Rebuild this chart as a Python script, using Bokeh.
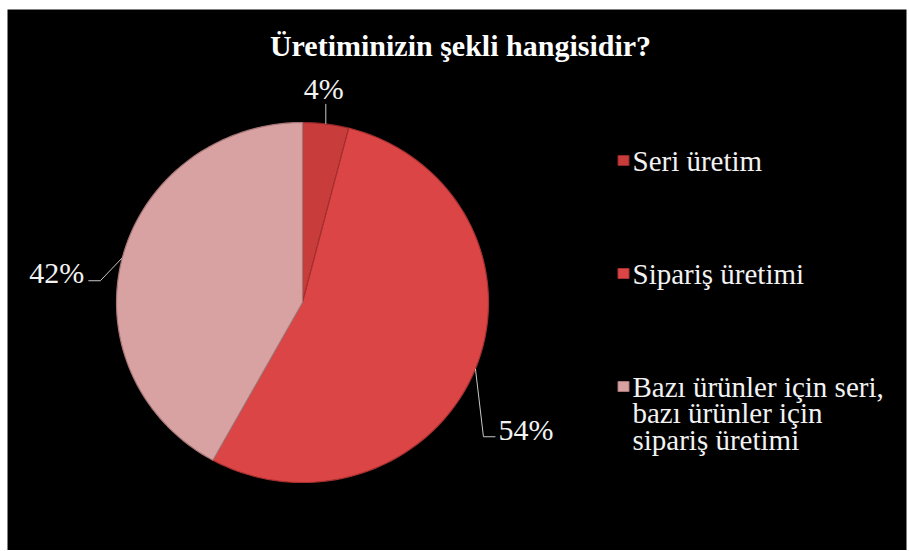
import numpy as np
from bokeh.plotting import figure
from bokeh.models import Range1d, ColumnDataSource
from bokeh.core.properties import value
from bokeh.embed import file_html
from bokeh.resources import INLINE

# ---- data ----
title_text = "Üretiminizin şekli hangisidir?"
categories = ["Seri üretim", "Sipariş üretimi", "Bazı ürünler için seri, bazı ürünler için sipariş üretimi"]
legend_lines = [["Seri üretim"], ["Sipariş üretimi"], ["Bazı ürünler için seri,", "bazı ürünler için", "sipariş üretimi"]]
percents = [4, 54, 42]
colors = ["#c93c3c", "#dc4545", "#d9a2a2"]
edge_colors = ["#8e2626", "#a83030", "#a77676"]

# ---- layout (pixel-like data space, y downwards) ----
W, H = 908, 550
FL, FT, FR, FB = 7, 9, 2, 0          # white margins around black area
CX, CY = 302, 302          # pie centre
RX, RY = 186, 180          # pie radii
FONT = "Liberation Serif"

p = figure(width=W, height=H, output_backend="svg", toolbar_location=None,
           x_range=Range1d(FL, W - FR), y_range=Range1d(H - FB, FT),
           x_axis_location=None, y_axis_location=None,
           min_border_left=FL, min_border_top=FT, min_border_right=FR, min_border_bottom=FB,
           background_fill_color="black", border_fill_color="white")
p.outline_line_color = None
p.grid.visible = False

# ---- pie slices (clockwise from 12 o'clock) ----
vals = np.array(percents, dtype=float)
fr = vals / vals.sum()
ends = np.cumsum(fr) * 2 * np.pi
starts = ends - fr * 2 * np.pi
xs, ys, mids = [], [], []
for s, e in zip(starts, ends):
    t = np.linspace(s, e, 120)
    xs.append(list(np.r_[CX, CX + RX * np.sin(t), CX]))
    ys.append(list(np.r_[CY, CY - RY * np.cos(t), CY]))
    mids.append((s + e) / 2)
p.patches(xs=xs, ys=ys, fill_color=colors, line_color=edge_colors, line_width=1.2)

# ---- data labels with leader lines ----
edge_pts = [(CX + RX * np.sin(m), CY - RY * np.cos(m)) for m in mids]
leader_offsets = [
    [(0, 0), (0, -20)],
    [(0, 0), (8, 68), (20, 68)],
    [(0, 0), (-22, 23), (-34, 23)],
]
label_anchor = [
    (-2, -35, "center"),
    (23, 61, "left"),
    (-38, 15, "right"),
]
for (ex, ey), offs in zip(edge_pts, leader_offsets):
    p.line([ex + dx for dx, dy in offs], [ey + dy for dx, dy in offs],
           line_color="#c8c8c8", line_width=1)
lab_src = ColumnDataSource(dict(
    x=[ex + a[0] for (ex, ey), a in zip(edge_pts, label_anchor)],
    y=[ey + a[1] for (ex, ey), a in zip(edge_pts, label_anchor)],
    t=[f"{v}%" for v in percents],
    al=[a[2] for a in label_anchor]))
p.text(x="x", y="y", text="t", text_align="al", source=lab_src,
       text_baseline="middle", text_color="#f2f2f2",
       text_font=value(FONT), text_font_size="30px")

# ---- title ----
p.text(x=[460], y=[45], text=[title_text], text_align="center",
       text_baseline="middle", text_color="white", text_font=value(FONT),
       text_font_size="30px", text_font_style="bold")

# ---- legend ----
LX, LY0, LSTEP, LINE_H = 623, 160, 113, 26.5
sq_x, sq_y, tx, ty, tt = [], [], [], [], []
for i, lines in enumerate(legend_lines):
    y0 = LY0 + i * LSTEP
    sq_x.append(LX)
    sq_y.append(y0)
    for j, ln in enumerate(lines):
        tx.append(LX + 9)
        ty.append(y0 + j * LINE_H)
        tt.append(ln)
p.rect(x=sq_x, y=sq_y, width=11, height=10, width_units="screen",
       height_units="screen", fill_color=colors, line_color=edge_colors)
p.text(x=tx, y=ty, text=tt, text_baseline="middle", text_color="#f2f2f2",
       text_font=value(FONT), text_font_size="29px")

open("out.html", "w").write(file_html(p, INLINE))
